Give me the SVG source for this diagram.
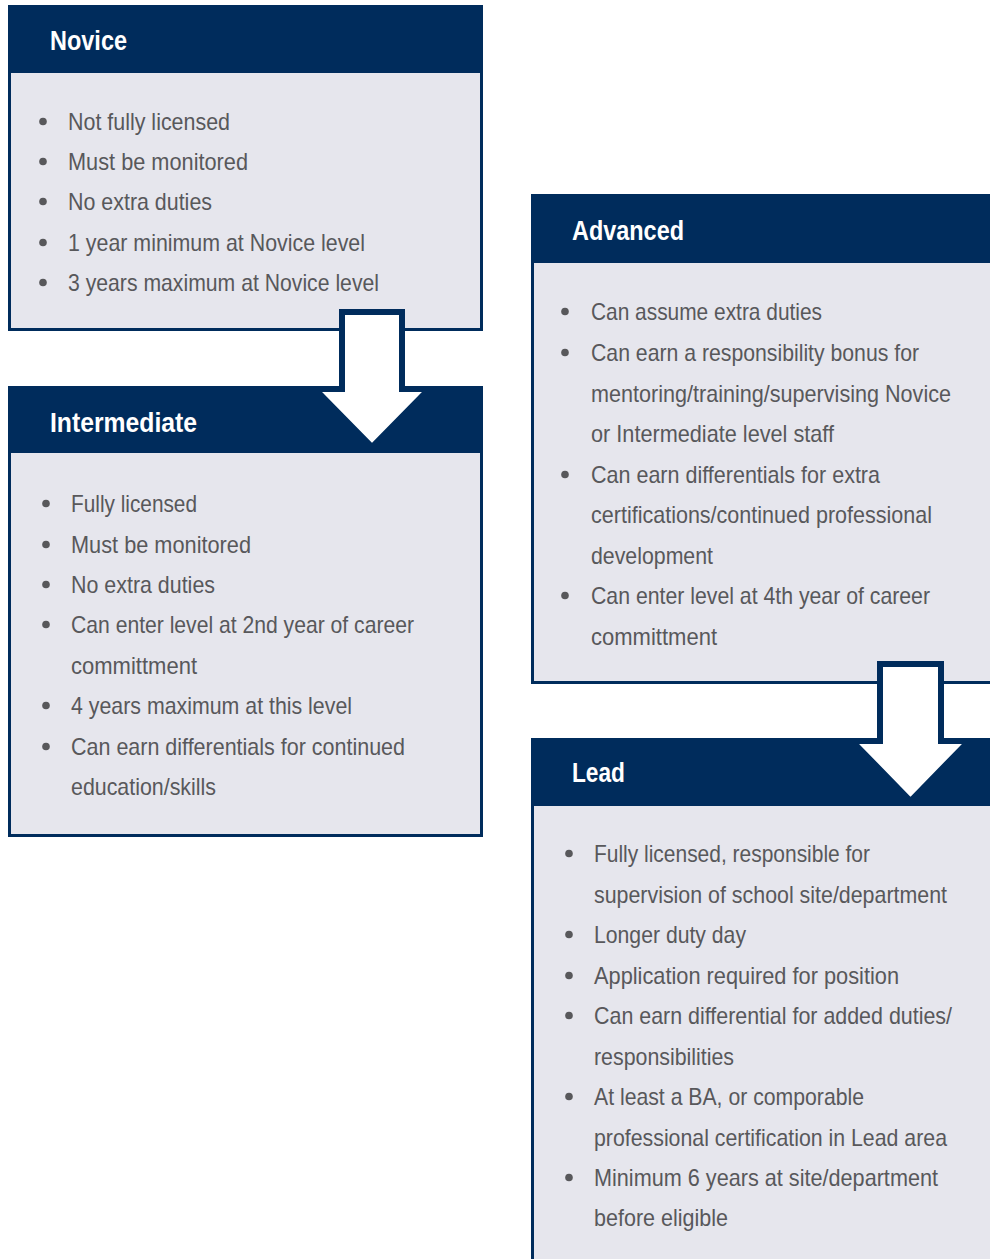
<svg xmlns="http://www.w3.org/2000/svg" width="990" height="1259" viewBox="0 0 990 1259">
<style>
.box{fill:#e6e6ed;stroke:#002c5c;stroke-width:3}
.hdr{fill:#002c5c}
.ttl{font-family:"Liberation Sans",Arial,sans-serif;font-weight:bold;font-size:27px;fill:#ffffff}
.txt{font-family:"Liberation Sans",Arial,sans-serif;font-size:24px;fill:#58585b}
.dot{fill:#58585b}
.arrow{fill:#ffffff;stroke:#002c5c;stroke-width:6;stroke-linejoin:miter}
</style>
<rect width="990" height="1259" fill="#ffffff"/>
<g id="novice">
<rect class="box" x="9.5" y="6.5" width="472" height="323"/>
<rect class="hdr" x="8" y="5" width="475" height="68"/>
<text class="ttl" x="50" y="50" textLength="77" lengthAdjust="spacingAndGlyphs">Novice</text>
<circle class="dot" cx="43" cy="121.5" r="3.8"/>
<circle class="dot" cx="43" cy="161.5" r="3.8"/>
<circle class="dot" cx="43" cy="201.5" r="3.8"/>
<circle class="dot" cx="43" cy="242.5" r="3.8"/>
<circle class="dot" cx="43" cy="282.5" r="3.8"/>
<text class="txt" x="68" y="130" textLength="162" lengthAdjust="spacingAndGlyphs">Not fully licensed</text>
<text class="txt" x="68" y="170" textLength="180" lengthAdjust="spacingAndGlyphs">Must be monitored</text>
<text class="txt" x="68" y="210" textLength="144" lengthAdjust="spacingAndGlyphs">No extra duties</text>
<text class="txt" x="68" y="251" textLength="297" lengthAdjust="spacingAndGlyphs">1 year minimum at Novice level</text>
<text class="txt" x="68" y="291" textLength="311" lengthAdjust="spacingAndGlyphs">3 years maximum at Novice level</text>
</g>
<g id="intermediate">
<rect class="box" x="9.5" y="387.5" width="472" height="448"/>
<rect class="hdr" x="8" y="386" width="475" height="67"/>
<text class="ttl" x="50" y="432" textLength="147" lengthAdjust="spacingAndGlyphs">Intermediate</text>
<circle class="dot" cx="46" cy="503.5" r="3.8"/>
<circle class="dot" cx="46" cy="544.5" r="3.8"/>
<circle class="dot" cx="46" cy="584.5" r="3.8"/>
<circle class="dot" cx="46" cy="624.5" r="3.8"/>
<circle class="dot" cx="46" cy="705.5" r="3.8"/>
<circle class="dot" cx="46" cy="746.5" r="3.8"/>
<text class="txt" x="71" y="512" textLength="126" lengthAdjust="spacingAndGlyphs">Fully licensed</text>
<text class="txt" x="71" y="553" textLength="180" lengthAdjust="spacingAndGlyphs">Must be monitored</text>
<text class="txt" x="71" y="593" textLength="144" lengthAdjust="spacingAndGlyphs">No extra duties</text>
<text class="txt" x="71" y="633" textLength="343" lengthAdjust="spacingAndGlyphs">Can enter level at 2nd year of career</text>
<text class="txt" x="71" y="674" textLength="126" lengthAdjust="spacingAndGlyphs">committment</text>
<text class="txt" x="71" y="714" textLength="281" lengthAdjust="spacingAndGlyphs">4 years maximum at this level</text>
<text class="txt" x="71" y="755" textLength="334" lengthAdjust="spacingAndGlyphs">Can earn differentials for continued</text>
<text class="txt" x="71" y="795" textLength="145" lengthAdjust="spacingAndGlyphs">education/skills</text>
</g>
<g id="advanced">
<rect class="box" x="532.5" y="195.5" width="500" height="487"/>
<rect class="hdr" x="531" y="194" width="470" height="69"/>
<text class="ttl" x="572" y="240" textLength="112" lengthAdjust="spacingAndGlyphs">Advanced</text>
<circle class="dot" cx="565" cy="311.5" r="3.8"/>
<circle class="dot" cx="565" cy="352.5" r="3.8"/>
<circle class="dot" cx="565" cy="474.5" r="3.8"/>
<circle class="dot" cx="565" cy="595.5" r="3.8"/>
<text class="txt" x="591" y="320" textLength="231" lengthAdjust="spacingAndGlyphs">Can assume extra duties</text>
<text class="txt" x="591" y="361" textLength="328" lengthAdjust="spacingAndGlyphs">Can earn a responsibility bonus for</text>
<text class="txt" x="591" y="402" textLength="360" lengthAdjust="spacingAndGlyphs">mentoring/training/supervising Novice</text>
<text class="txt" x="591" y="442" textLength="243" lengthAdjust="spacingAndGlyphs">or Intermediate level staff</text>
<text class="txt" x="591" y="483" textLength="289" lengthAdjust="spacingAndGlyphs">Can earn differentials for extra</text>
<text class="txt" x="591" y="523" textLength="341" lengthAdjust="spacingAndGlyphs">certifications/continued professional</text>
<text class="txt" x="591" y="564" textLength="122" lengthAdjust="spacingAndGlyphs">development</text>
<text class="txt" x="591" y="604" textLength="339" lengthAdjust="spacingAndGlyphs">Can enter level at 4th year of career</text>
<text class="txt" x="591" y="645" textLength="126" lengthAdjust="spacingAndGlyphs">committment</text>
</g>
<g id="lead">
<rect class="box" x="532.5" y="739.5" width="500" height="600"/>
<rect class="hdr" x="531" y="738" width="470" height="68"/>
<text class="ttl" x="572" y="782" textLength="53" lengthAdjust="spacingAndGlyphs">Lead</text>
<circle class="dot" cx="569" cy="853.5" r="3.8"/>
<circle class="dot" cx="569" cy="934.5" r="3.8"/>
<circle class="dot" cx="569" cy="975.5" r="3.8"/>
<circle class="dot" cx="569" cy="1015.5" r="3.8"/>
<circle class="dot" cx="569" cy="1096.5" r="3.8"/>
<circle class="dot" cx="569" cy="1177.5" r="3.8"/>
<text class="txt" x="594" y="862" textLength="276" lengthAdjust="spacingAndGlyphs">Fully licensed, responsible for</text>
<text class="txt" x="594" y="903" textLength="353" lengthAdjust="spacingAndGlyphs">supervision of school site/department</text>
<text class="txt" x="594" y="943" textLength="152" lengthAdjust="spacingAndGlyphs">Longer duty day</text>
<text class="txt" x="594" y="984" textLength="305" lengthAdjust="spacingAndGlyphs">Application required for position</text>
<text class="txt" x="594" y="1024" textLength="358" lengthAdjust="spacingAndGlyphs">Can earn differential for added duties/</text>
<text class="txt" x="594" y="1065" textLength="140" lengthAdjust="spacingAndGlyphs">responsibilities</text>
<text class="txt" x="594" y="1105" textLength="270" lengthAdjust="spacingAndGlyphs">At least a BA, or comporable</text>
<text class="txt" x="594" y="1146" textLength="353" lengthAdjust="spacingAndGlyphs">professional certification in Lead area</text>
<text class="txt" x="594" y="1186" textLength="344" lengthAdjust="spacingAndGlyphs">Minimum 6 years at site/department</text>
<text class="txt" x="594" y="1226" textLength="134" lengthAdjust="spacingAndGlyphs">before eligible</text>
</g>
<g id="connectors">
<polygon class="arrow" points="342,312 402,312 402,389 429,389 372,447 315,389 342,389"/>
<polygon class="arrow" points="880,664 941,664 941,741 969,741 910.5,801 852,741 880,741"/>
</g>
</svg>
